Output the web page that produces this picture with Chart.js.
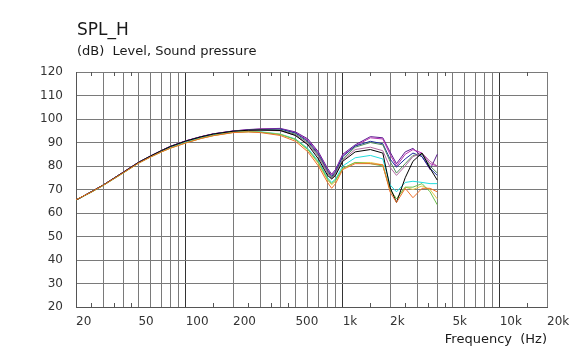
<!DOCTYPE html>
<html>
<head>
<meta charset="utf-8">
<script src="https://cdn.jsdelivr.net/npm/chart.js@4.4.0/dist/chart.umd.min.js"></script>
<style>
  html, body { margin: 0; padding: 0; background: #fff; }
  #wrap { width: 578px; height: 351px; position: relative; }
</style>
</head>
<body>
<div id="wrap"><canvas id="splChart" width="578" height="351"></canvas></div>
<script>
// frequency points (Hz)
const freqHz = [20, 25, 30, 40, 50, 60, 70, 80, 100, 125, 150, 200, 250, 300, 400, 500, 600, 700, 800, 850, 900, 1000, 1200, 1500, 1800, 2000, 2200, 2500, 2800, 3200, 3600, 4000];

// SPL curves (dB)
const splBlack   = [65.5, 69, 72, 77.3, 81.5, 84.3, 86.5, 88.3, 90.6, 92.4, 93.6, 94.8, 95.2, 95.3, 95.1, 93, 89, 83, 76, 74.5, 76, 82, 86, 87, 85.5, 71, 64.5, 75, 82, 85.5, 79, 74];
const splOrange  = [65.6, 68.9, 71.9, 77.1, 81.2, 83.9, 86, 87.6, 89.8, 91.7, 92.9, 94.2, 94.5, 94.2, 93, 90.5, 86, 80, 73, 70.5, 72.5, 78.5, 81, 81, 80.5, 69, 64.5, 70.5, 66.5, 70.5, 70.5, 69];
const splGreen   = [65.5, 68.8, 71.8, 77, 81.2, 83.9, 86, 87.7, 89.9, 91.8, 93, 94.3, 94.6, 94.4, 93.4, 91.3, 87, 81.5, 74.5, 72.5, 74, 79, 81.5, 81, 80, 70, 66, 71, 71, 72.5, 69, 63.5];
const splYellow  = [65.6, 68.9, 71.9, 77.1, 81.2, 83.9, 86, 87.6, 89.8, 91.7, 92.9, 94.3, 94.6, 94.4, 93.5, 91.2, 86.8, 81, 74, 72, 73.5, 79, 81.5, 81.5, 80.5, 70, 66, 71, 70, 71.5, 70, 66];
const splCyan    = [65.5, 68.9, 71.9, 77.1, 81.3, 84.1, 86.2, 87.9, 90.1, 92, 93.2, 94.4, 94.8, 94.6, 93.6, 91.5, 87.5, 82, 75, 73, 74.5, 80, 83.5, 84.5, 83, 72, 69, 73, 73.5, 73, 72.5, 72.5];
const splPink    = [65.5, 69, 72, 77.3, 81.5, 84.3, 86.5, 88.2, 90.5, 92.3, 93.5, 94.7, 95.1, 95.2, 95, 93, 89.5, 84, 77, 74.5, 76.5, 82.5, 87, 88, 86.5, 79.5, 76, 80, 84, 85.5, 82, 80];
const splDkGreen = [65.5, 69, 72, 77.3, 81.5, 84.3, 86.5, 88.2, 90.5, 92.3, 93.5, 94.7, 95.2, 95.3, 95.3, 93.5, 90, 84.5, 77.5, 75, 77, 83, 88, 90, 89, 82, 77, 81, 84.5, 85, 80, 77];
const splNavy    = [65.5, 69, 72, 77.3, 81.5, 84.3, 86.5, 88.3, 90.6, 92.4, 93.6, 94.8, 95.3, 95.5, 95.7, 94, 90.5, 85, 78, 75.5, 77.5, 84, 88.5, 90.5, 89.5, 83, 79.5, 83, 85.5, 84, 79, 76];
const splMagenta = [65.5, 69, 72, 77.4, 81.6, 84.4, 86.6, 88.4, 90.7, 92.5, 93.7, 94.9, 95.4, 95.7, 95.8, 94.2, 91, 85.5, 78.5, 76, 78, 84.5, 88.5, 92, 91.5, 85, 80, 85, 87, 85.5, 81, 80];
const splPurple  = [65.5, 69, 72, 77.4, 81.6, 84.4, 86.6, 88.4, 90.7, 92.5, 93.7, 94.9, 95.5, 95.8, 96, 94.5, 91.5, 86, 79, 76.5, 78.5, 85, 89, 92.5, 92, 86, 81, 86, 87.5, 84, 78.5, 85];

// axis ticks
const xGridHz = [20, 30, 40, 50, 60, 70, 80, 90, 100, 200, 300, 400, 500, 600, 700, 800, 900, 1000, 2000, 3000, 4000, 5000, 6000, 7000, 8000, 9000, 10000, 20000];
const xLabelHz = [20, 50, 100, 200, 500, 1000, 2000, 5000, 10000, 20000];
const xDecades = [100, 1000, 10000];
const xMinorHz = [25, 35, 45, 150, 250, 350, 450, 1500, 2500, 3500, 4500, 15000];

const FONT = '"DejaVu Sans", Verdana, sans-serif';

function pts(vals) {
    return freqHz.map((f, i) => ({ x: f, y: vals[i] }));
}

function series(label, vals, color) {
    return {
        label: label,
        data: pts(vals),
        borderColor: color,
        backgroundColor: color,
        borderWidth: 1,
        pointRadius: 0,
        tension: 0,
        fill: false
    };
}

// titles and the little minor ticks along top/bottom edge
const decorPlugin = {
    id: 'decor',
    beforeDatasetsDraw(chart) {
        const { ctx, chartArea, scales } = chart;
        ctx.save();
        ctx.strokeStyle = '#555';
        ctx.lineWidth = 1;
        xMinorHz.forEach(f => {
            const x = Math.round(scales.x.getPixelForValue(f)) + 0.5;
            ctx.beginPath();
            ctx.moveTo(x, chartArea.top);
            ctx.lineTo(x, chartArea.top + 4);
            ctx.moveTo(x, chartArea.bottom);
            ctx.lineTo(x, chartArea.bottom - 4);
            ctx.stroke();
        });
        ctx.restore();
    },
    afterDraw(chart) {
        const ctx = chart.ctx;
        ctx.save();
        ctx.fillStyle = '#1a1a1a';
        ctx.textBaseline = 'alphabetic';
        ctx.textAlign = 'left';
        ctx.font = '17px ' + FONT;
        ctx.fillText('SPL_H', 77, 35);
        ctx.font = '13px ' + FONT;
        ctx.fillText('(dB)  Level, Sound pressure', 77, 55);
        ctx.textAlign = 'right';
        ctx.fillText('Frequency  (Hz)', 547, 343);
        ctx.restore();
    }
};

const ctx = document.getElementById('splChart').getContext('2d');
const chart = new Chart(ctx, {
    type: 'line',
    data: {
        datasets: [
            series('orange', splOrange, '#f07028'),
            series('black', splBlack, '#000000'),
            series('green', splGreen, '#6cc04a'),
            series('yellow', splYellow, '#e6c84a'),
            series('cyan', splCyan, '#22dddd'),
            series('pink', splPink, '#b06aa0'),
            series('dkgreen', splDkGreen, '#4f8a5a'),
            series('navy', splNavy, '#1c2c9c'),
            series('magenta', splMagenta, '#b030b0'),
            series('purple', splPurple, '#5b1a8f')
        ]
    },
    options: {
        responsive: false,
        animation: false,
        layout: {
            padding: { top: 72, right: 31, left: 0, bottom: 0 }
        },
        plugins: {
            legend: { display: false },
            title: { display: false },
            tooltip: { enabled: false }
        },
        scales: {
            x: {
                type: 'logarithmic',
                min: 20,
                max: 20000,
                afterBuildTicks: function(scale) {
                    scale.ticks = xGridHz.map(v => ({ value: v }));
                },
                afterFit: function(scale) {
                    scale.height = 44;
                },
                grid: {
                    drawTicks: false,
                    color: function(c) {
                        return xDecades.includes(c.tick.value) ? '#333' : '#7a7a7a';
                    },
                    lineWidth: 1
                },
                border: { color: '#555' },
                ticks: {
                    align: 'start',
                    padding: 8,
                    maxRotation: 0,
                    autoSkip: false,
                    color: '#333',
                    font: { family: FONT, size: 12 },
                    callback: function(value) {
                        if (!xLabelHz.includes(value)) return '';
                        return value >= 1000 ? (value / 1000) + 'k' : String(value);
                    }
                }
            },
            y: {
                min: 20,
                max: 120,
                afterFit: function(scale) {
                    scale.width = 76;
                },
                grid: {
                    drawTicks: false,
                    color: '#7a7a7a',
                    lineWidth: 1
                },
                border: { color: '#555' },
                ticks: {
                    stepSize: 10,
                    padding: 13,
                    color: '#333',
                    font: { family: FONT, size: 12 }
                }
            }
        }
    },
    plugins: [decorPlugin]
});
</script>
</body>
</html>
